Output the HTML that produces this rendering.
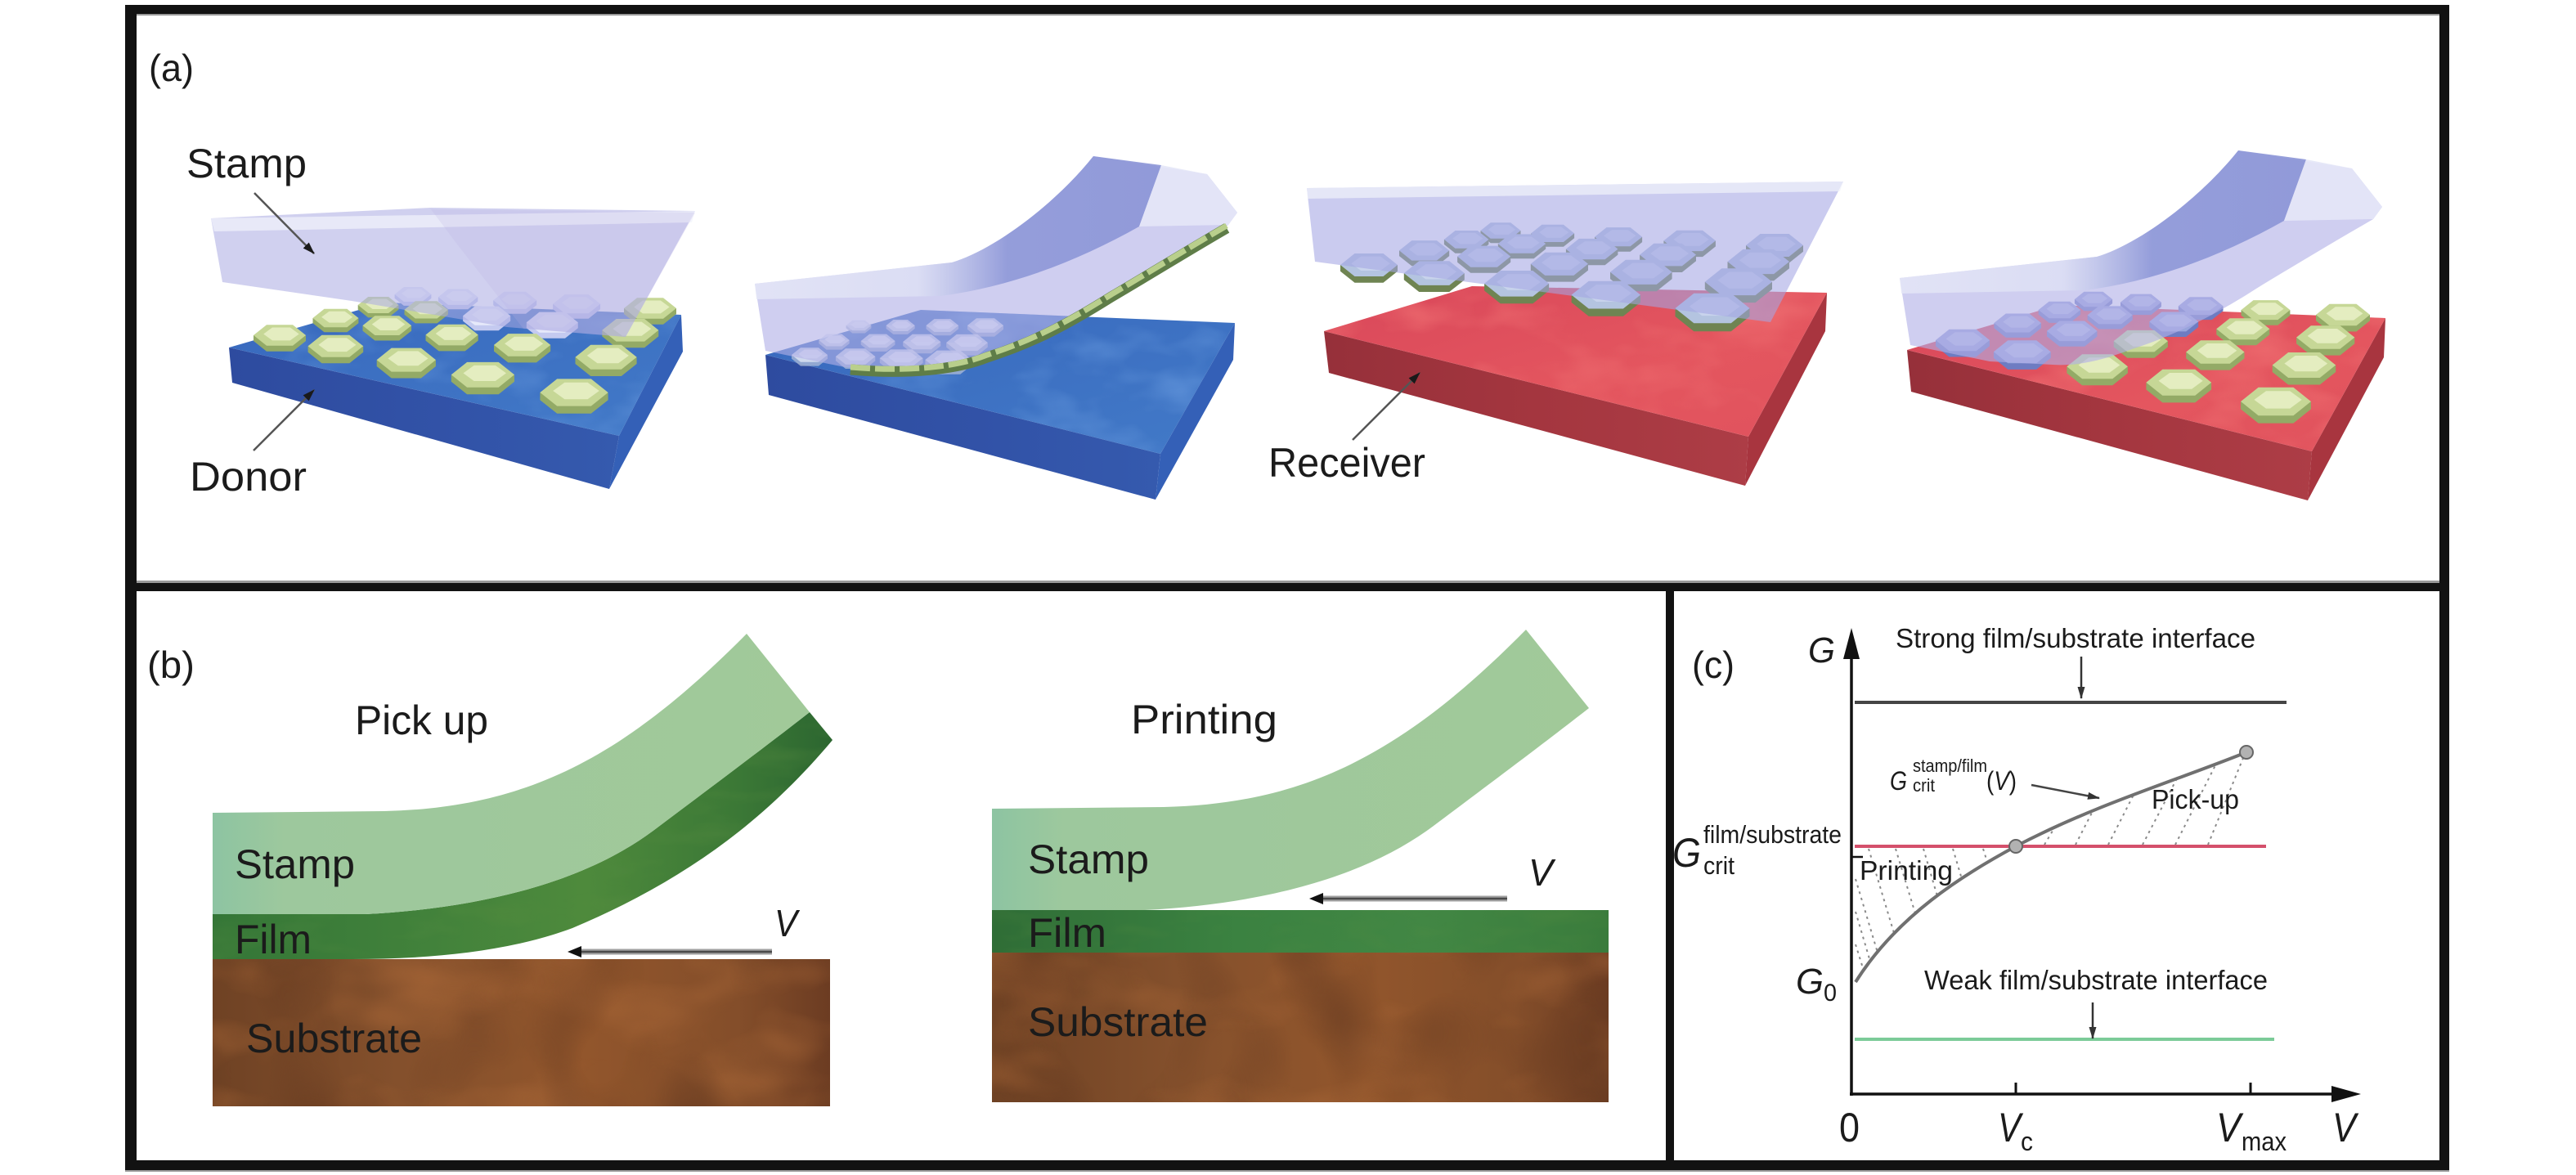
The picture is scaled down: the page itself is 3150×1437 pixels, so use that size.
<!DOCTYPE html>
<html><head><meta charset="utf-8">
<style>
html,body{margin:0;padding:0;background:#fff;overflow:hidden;width:3150px;height:1437px;}
svg{display:block;}
text{font-family:"Liberation Sans",Arial,sans-serif;fill:#1b1b1b;}
.it{font-style:italic;}
filter{color-interpolation-filters:sRGB;}
</style></head><body>
<svg xmlns="http://www.w3.org/2000/svg" width="3150" height="1437" viewBox="0 0 3150 1437">
<defs>
 <linearGradient id="blueFront" x1="0" y1="0" x2="1" y2="0">
  <stop offset="0" stop-color="#2e4b9f"/><stop offset="0.6" stop-color="#3253a8"/><stop offset="1" stop-color="#355aae"/>
 </linearGradient>
 <linearGradient id="blueTop" x1="0" y1="0" x2="1" y2="1">
  <stop offset="0" stop-color="#3868bd"/><stop offset="1" stop-color="#427ac8"/>
 </linearGradient>
 <linearGradient id="redFront" x1="0" y1="0" x2="1" y2="0">
  <stop offset="0" stop-color="#96303a"/><stop offset="0.5" stop-color="#a4363f"/><stop offset="1" stop-color="#ad3d46"/>
 </linearGradient>
 <linearGradient id="redTop" x1="0" y1="0" x2="1" y2="1">
  <stop offset="0" stop-color="#d9475a"/><stop offset="0.6" stop-color="#e4565f"/><stop offset="1" stop-color="#e0525d"/>
 </linearGradient>
 <linearGradient id="stampG" x1="0" y1="0" x2="1" y2="0">
  <stop offset="0" stop-color="#8dc4a2"/><stop offset="0.12" stop-color="#9dc89d"/><stop offset="1" stop-color="#a1c999"/>
 </linearGradient>
 <linearGradient id="filmG" x1="0" y1="0" x2="1" y2="0">
  <stop offset="0" stop-color="#347637"/><stop offset="0.35" stop-color="#42823b"/><stop offset="0.6" stop-color="#4e8a3c"/><stop offset="0.85" stop-color="#3b7836"/><stop offset="1" stop-color="#2c6630"/>
 </linearGradient>
 <linearGradient id="filmP" x1="0" y1="0" x2="1" y2="0">
  <stop offset="0" stop-color="#2f6d36"/><stop offset="0.4" stop-color="#3b8241"/><stop offset="0.7" stop-color="#428744"/><stop offset="1" stop-color="#3a7c3c"/>
 </linearGradient>
 <linearGradient id="brownG" x1="0" y1="0" x2="1" y2="0">
  <stop offset="0" stop-color="#6f4224"/><stop offset="0.3" stop-color="#84502c"/><stop offset="0.6" stop-color="#92562c"/><stop offset="0.85" stop-color="#844e2a"/><stop offset="1" stop-color="#6c3c22"/>
 </linearGradient>
 <linearGradient id="st2top" x1="923" y1="0" x2="1420" y2="0" gradientUnits="userSpaceOnUse">
  <stop offset="0" stop-color="#e6e8f7" stop-opacity="0.8"/><stop offset="0.4" stop-color="#dfe2f5" stop-opacity="0.75"/><stop offset="0.62" stop-color="#8e98d8" stop-opacity="0.9"/><stop offset="1" stop-color="#8a94d6" stop-opacity="0.9"/>
 </linearGradient>
 <filter id="fBlue" x="0" y="0" width="1" height="1" primitiveUnits="userSpaceOnUse" color-interpolation-filters="sRGB">
  <feTurbulence type="fractalNoise" baseFrequency="0.012 0.022" numOctaves="3" seed="7" result="t"/>
  <feColorMatrix in="t" type="matrix" values="0 0 0 0 0.36  0 0 0 0 0.56  0 0 0 0 0.84  1.8 0 0 0 -0.8"/>
  <feComposite in2="SourceGraphic" operator="in"/>
 </filter>
 <filter id="fRed" x="0" y="0" width="1" height="1" primitiveUnits="userSpaceOnUse" color-interpolation-filters="sRGB">
  <feTurbulence type="fractalNoise" baseFrequency="0.01 0.02" numOctaves="3" seed="3" result="t"/>
  <feColorMatrix in="t" type="matrix" values="0 0 0 0 0.94  0 0 0 0 0.44  0 0 0 0 0.45  1.6 0 0 0 -0.72"/>
  <feComposite in2="SourceGraphic" operator="in"/>
 </filter>
 <filter id="fBrown" x="0" y="0" width="1" height="1" primitiveUnits="userSpaceOnUse" color-interpolation-filters="sRGB">
  <feTurbulence type="fractalNoise" baseFrequency="0.007 0.012" numOctaves="3" seed="11" result="t"/>
  <feColorMatrix in="t" type="matrix" values="0 0 0 0 0.64  0 0 0 0 0.39  0 0 0 0 0.21  1.8 0 0 0 -0.8"/>
  <feComposite in2="SourceGraphic" operator="in"/>
 </filter>
 <filter id="fBrownD" x="0" y="0" width="1" height="1" primitiveUnits="userSpaceOnUse" color-interpolation-filters="sRGB">
  <feTurbulence type="fractalNoise" baseFrequency="0.009 0.006" numOctaves="2" seed="23" result="t"/>
  <feColorMatrix in="t" type="matrix" values="0 0 0 0 0.40  0 0 0 0 0.23  0 0 0 0 0.13  1.6 0 0 0 -0.75"/>
  <feComposite in2="SourceGraphic" operator="in"/>
 </filter>
 <filter id="fGreen" x="0" y="0" width="1" height="1" primitiveUnits="userSpaceOnUse" color-interpolation-filters="sRGB">
  <feTurbulence type="fractalNoise" baseFrequency="0.01 0.03" numOctaves="3" seed="5" result="t"/>
  <feColorMatrix in="t" type="matrix" values="0 0 0 0 0.36  0 0 0 0 0.56  0 0 0 0 0.26  1.4 0 0 0 -0.65"/>
  <feComposite in2="SourceGraphic" operator="in"/>
 </filter>
 <marker id="ahA" markerUnits="userSpaceOnUse" markerWidth="16" markerHeight="12" refX="14" refY="6" orient="auto">
  <path d="M0,1 L15,6 L0,11 Z" fill="#1a1a1a"/>
 </marker>
 <marker id="ahC" markerUnits="userSpaceOnUse" markerWidth="16" markerHeight="12" refX="14" refY="6" orient="auto">
  <path d="M0,1.5 L15,6 L0,10.5 Z" fill="#333"/>
 </marker>
</defs>

<!-- ===================== PANEL (a) ===================== -->
<!-- Image 1 : donor -->
<polygon points="280,425 757,533 745,598 284,468" fill="url(#blueFront)"/>
<polygon points="757,533 833,385 835,430 745,598" fill="#3460b7"/>
<polygon points="280,425 470,370 833,385 757,533" fill="url(#blueTop)"/>
<polygon points="280,425 470,370 833,385 757,533" fill="#000" filter="url(#fBlue)"/>
<g id="hx1"></g>
<path d="M258,267 L527,254 L850,258 L765,412 L620,400 L430,368 L272,345 Z" fill="#a9a9e2" fill-opacity="0.55"/>
<path d="M258,267 L850,258 L846,272 L262,283 Z" fill="#f2f3fc" fill-opacity="0.7"/>
<path d="M527,256 L850,260 L765,412 L640,402 L560,300 Z" fill="#b9b2e4" fill-opacity="0.22"/>

<!-- Image 2 : peeling from donor -->
<polygon points="936,434 1419,555 1413,611 940,483" fill="url(#blueFront)"/>
<polygon points="1419,555 1510,395 1508,440 1413,611" fill="#3460b7"/>
<polygon points="936,434 1126,379 1510,395 1419,555" fill="url(#blueTop)"/>
<polygon points="936,434 1126,379 1510,395 1419,555" fill="#000" filter="url(#fBlue)"/>
<g id="hx2"></g>
<g id="stamp2">
 <path d="M923,347 L1164,321 C1215,306 1290,250 1337,191 L1476,213 L1513,260 L1502,275 C1450,305 1400,335 1359,360 C1300,398 1250,420 1207,434 C1170,448 1140,455 1110,453 L1033,449 L936,429 Z" fill="#b2b0e6" fill-opacity="0.62"/>
 <path d="M923,347 L1164,321 C1215,306 1290,250 1337,191 L1420,202 L1393,277 C1320,318 1240,350 1150,362 L925,366 Z" fill="url(#st2top)"/>
 <path d="M1393,277 L1420,202 L1476,213 L1513,260 L1502,275 Z" fill="#e4e7f7" fill-opacity="0.9"/>
</g>
<path d="M1040,452 C1110,458 1170,452 1207,437 C1260,420 1300,400 1359,363 C1410,333 1450,308 1500,279" fill="none" stroke="#5f7d48" stroke-width="13"/>
<path d="M1040,449 C1110,455 1170,449 1207,434 C1260,417 1300,397 1359,360 C1410,330 1450,305 1500,276" fill="none" stroke="#b9cf8c" stroke-width="7" stroke-dasharray="24 6"/>

<!-- Image 3 : printing onto receiver -->
<polygon points="1619,405 2138,534 2134,594 1625,456" fill="url(#redFront)"/>
<polygon points="2138,534 2234,358 2232,405 2134,594" fill="#a8353f"/>
<polygon points="1619,405 1800,350 2234,358 2138,534" fill="url(#redTop)"/>
<polygon points="1619,405 1800,350 2234,358 2138,534" fill="#000" filter="url(#fRed)"/>
<g id="hx3"></g>
<path d="M1598,230 L2254,222 L2165,394 L1608,320 Z" fill="#a4a6e4" fill-opacity="0.58"/>
<path d="M1598,230 L2254,222 L2250,234 L1599,243 Z" fill="#f1f2fb" fill-opacity="0.7"/>

<!-- Image 4 : peeling from receiver -->
<polygon points="2332,428 2827,552 2822,612 2337,479" fill="url(#redFront)"/>
<polygon points="2827,552 2917,389 2915,437 2822,612" fill="#a8353f"/>
<polygon points="2332,428 2517,373 2917,389 2827,552" fill="url(#redTop)"/>
<polygon points="2332,428 2517,373 2917,389 2827,552" fill="#000" filter="url(#fRed)"/>
<g id="hx4"></g>
<use href="#stamp2" transform="translate(1400,-7)"/>

<!-- labels (a) -->
<text x="182" y="99" font-size="46" textLength="55" lengthAdjust="spacingAndGlyphs">(a)</text>
<text x="228" y="217" font-size="50" textLength="147" lengthAdjust="spacingAndGlyphs">Stamp</text>
<text x="232" y="600" font-size="50" textLength="143" lengthAdjust="spacingAndGlyphs">Donor</text>
<text x="1551" y="583" font-size="50" textLength="192" lengthAdjust="spacingAndGlyphs">Receiver</text>
<line x1="311" y1="236" x2="384" y2="310" stroke="#555" stroke-width="2.5" marker-end="url(#ahA)"/>
<line x1="310" y1="551" x2="384" y2="477" stroke="#555" stroke-width="2.5" marker-end="url(#ahA)"/>
<line x1="1654" y1="538" x2="1736" y2="456" stroke="#555" stroke-width="2.5" marker-end="url(#ahA)"/>

<!-- ===================== PANEL (b) ===================== -->
<!-- pick up -->
<rect x="260" y="1173" width="755" height="180" fill="url(#brownG)"/>
<rect x="260" y="1173" width="755" height="180" fill="#000" filter="url(#fBrown)"/>
<rect x="260" y="1173" width="755" height="180" fill="#000" filter="url(#fBrownD)"/>
<path d="M260,1118 L447,1118 C600,1110 720,1075 800,1015 C880,955 940,910 990,871 L1018,905 C930,1010 830,1080 700,1135 C620,1165 520,1173 430,1173 L260,1173 Z" fill="url(#filmG)"/>
<path d="M260,1118 L447,1118 C600,1110 720,1075 800,1015 C880,955 940,910 990,871 L1018,905 C930,1010 830,1080 700,1135 C620,1165 520,1173 430,1173 L260,1173 Z" fill="#000" filter="url(#fGreen)" opacity="0.5"/>
<path d="M260,994 L470,992 C640,988 760,930 913,775 L990,871 C940,910 880,955 800,1015 C720,1075 600,1110 447,1118 L260,1118 Z" fill="url(#stampG)"/>
<line x1="944" y1="1164" x2="708" y2="1164" stroke="#a0a0a0" stroke-width="7"/>
<line x1="944" y1="1164" x2="708" y2="1164" stroke="#4a4a4a" stroke-width="2.5"/>
<polygon points="694,1164 711,1157 711,1171" fill="#111"/>

<!-- printing -->
<rect x="1213" y="1165" width="754" height="183" fill="url(#brownG)"/>
<rect x="1213" y="1165" width="754" height="183" fill="#000" filter="url(#fBrown)"/>
<rect x="1213" y="1165" width="754" height="183" fill="#000" filter="url(#fBrownD)"/>
<rect x="1213" y="1113" width="754" height="52" fill="url(#filmP)"/>
<rect x="1213" y="1113" width="754" height="52" fill="#000" filter="url(#fGreen)" opacity="0.5"/>
<path d="M260,994 L470,992 C640,988 760,930 913,775 L990,871 C940,910 880,955 800,1015 C720,1075 600,1110 447,1118 L260,1118 Z" fill="url(#stampG)" transform="translate(953,-5)"/>
<line x1="1843" y1="1099" x2="1615" y2="1099" stroke="#a0a0a0" stroke-width="7"/>
<line x1="1843" y1="1099" x2="1615" y2="1099" stroke="#4a4a4a" stroke-width="2.5"/>
<polygon points="1601,1099 1618,1092 1618,1106" fill="#111"/>

<!-- labels (b) -->
<text x="180" y="829" font-size="46" textLength="58" lengthAdjust="spacingAndGlyphs">(b)</text>
<text x="434" y="898" font-size="50" textLength="163" lengthAdjust="spacingAndGlyphs">Pick up</text>
<text x="1383" y="897" font-size="50" textLength="179" lengthAdjust="spacingAndGlyphs">Printing</text>
<text x="287" y="1074" font-size="50" textLength="147" lengthAdjust="spacingAndGlyphs">Stamp</text>
<text x="287" y="1166" font-size="50" textLength="94" lengthAdjust="spacingAndGlyphs">Film</text>
<text x="301" y="1287" font-size="50" textLength="215" lengthAdjust="spacingAndGlyphs">Substrate</text>
<text x="947" y="1145" font-size="46" class="it" textLength="28" lengthAdjust="spacingAndGlyphs">V</text>
<text x="1257" y="1068" font-size="50" textLength="148" lengthAdjust="spacingAndGlyphs">Stamp</text>
<text x="1257" y="1158" font-size="50" textLength="96" lengthAdjust="spacingAndGlyphs">Film</text>
<text x="1257" y="1267" font-size="50" textLength="220" lengthAdjust="spacingAndGlyphs">Substrate</text>
<text x="1869" y="1083" font-size="46" class="it" textLength="30" lengthAdjust="spacingAndGlyphs">V</text>

<!-- ===================== PANEL (c) ===================== -->
<g stroke="#8a8a8a" stroke-width="2" stroke-dasharray="3 5" fill="none">
 <line x1="2285" y1="1038" x2="2316" y2="1141"/>
 <line x1="2318" y1="1038" x2="2342" y2="1117"/>
 <line x1="2352" y1="1038" x2="2369" y2="1096"/>
 <line x1="2388" y1="1038" x2="2399" y2="1075"/>
 <line x1="2425" y1="1038" x2="2430" y2="1054"/>
 <line x1="2269" y1="1075" x2="2296" y2="1165"/>
 <line x1="2269" y1="1115" x2="2287" y2="1176"/>
 <line x1="2269" y1="1155" x2="2279" y2="1187"/>
 <line x1="2500" y1="1033" x2="2513" y2="1011"/>
 <line x1="2538" y1="1033" x2="2559" y2="992"/>
 <line x1="2578" y1="1033" x2="2609" y2="972"/>
 <line x1="2620" y1="1033" x2="2661" y2="954"/>
 <line x1="2660" y1="1033" x2="2710" y2="934"/>
 <line x1="2700" y1="1033" x2="2745" y2="922"/>
</g>
<line x1="2268" y1="859" x2="2796" y2="859" stroke="#454545" stroke-width="4"/>
<line x1="2268" y1="1035" x2="2771" y2="1035" stroke="#d4506b" stroke-width="4"/>
<line x1="2268" y1="1271" x2="2781" y2="1271" stroke="#7ccb98" stroke-width="4"/>
<path d="M2269,1201 C2320,1120 2400,1070 2465,1035 C2560,985 2660,955 2747,920" fill="none" stroke="#707070" stroke-width="4"/>
<circle cx="2465" cy="1035" r="8" fill="#b2b2b2" stroke="#666" stroke-width="2"/>
<circle cx="2747" cy="920" r="8" fill="#b2b2b2" stroke="#666" stroke-width="2"/>
<line x1="2264" y1="1340" x2="2264" y2="800" stroke="#111" stroke-width="3.5"/>
<polygon points="2264,768 2254,806 2274,806" fill="#111"/>
<line x1="2262" y1="1338" x2="2856" y2="1338" stroke="#111" stroke-width="3.5"/>
<polygon points="2887,1338 2851,1328 2851,1348" fill="#111"/>
<line x1="2465" y1="1324" x2="2465" y2="1338" stroke="#111" stroke-width="3"/>
<line x1="2752" y1="1324" x2="2752" y2="1338" stroke="#111" stroke-width="3"/>
<line x1="2264" y1="1048" x2="2278" y2="1048" stroke="#111" stroke-width="2.5"/>
<line x1="2545" y1="803" x2="2545" y2="854" stroke="#333" stroke-width="2.5" marker-end="url(#ahC)"/>
<line x1="2559" y1="1226" x2="2559" y2="1270" stroke="#333" stroke-width="2.5" marker-end="url(#ahC)"/>
<line x1="2484" y1="960" x2="2567" y2="976" stroke="#444" stroke-width="2.5" marker-end="url(#ahC)"/>

<text x="2069" y="829" font-size="46" textLength="52" lengthAdjust="spacingAndGlyphs">(c)</text>
<text x="2211" y="810" font-size="44" class="it" textLength="33" lengthAdjust="spacingAndGlyphs">G</text>
<text x="2318" y="792" font-size="33" textLength="440" lengthAdjust="spacingAndGlyphs">Strong film/substrate interface</text>
<text x="2353" y="1210" font-size="33" textLength="420" lengthAdjust="spacingAndGlyphs">Weak film/substrate interface</text>
<text x="2311" y="966" font-size="32" class="it" textLength="21" lengthAdjust="spacingAndGlyphs">G</text>
<text x="2339" y="944" font-size="22" textLength="91" lengthAdjust="spacingAndGlyphs">stamp/film</text>
<text x="2339" y="968" font-size="22" textLength="27" lengthAdjust="spacingAndGlyphs">crit</text>
<text x="2429" y="966" font-size="32" textLength="37" lengthAdjust="spacingAndGlyphs">(<tspan class="it">V</tspan>)</text>
<text x="2631" y="989" font-size="33" textLength="107" lengthAdjust="spacingAndGlyphs">Pick-up</text>
<text x="2274" y="1076" font-size="33" textLength="114" lengthAdjust="spacingAndGlyphs">Printing</text>
<text x="2045" y="1060" font-size="50" class="it" textLength="35" lengthAdjust="spacingAndGlyphs">G</text>
<text x="2083" y="1031" font-size="31" textLength="169" lengthAdjust="spacingAndGlyphs">film/substrate</text>
<text x="2083" y="1069" font-size="31" textLength="38" lengthAdjust="spacingAndGlyphs">crit</text>
<text x="2196" y="1215" font-size="44" class="it" textLength="34" lengthAdjust="spacingAndGlyphs">G</text>
<text x="2230" y="1224" font-size="30" textLength="16" lengthAdjust="spacingAndGlyphs">0</text>
<text x="2249" y="1396" font-size="50" textLength="25" lengthAdjust="spacingAndGlyphs">0</text>
<text x="2443" y="1396" font-size="50" class="it" textLength="28" lengthAdjust="spacingAndGlyphs">V</text>
<text x="2471" y="1407" font-size="32" textLength="15" lengthAdjust="spacingAndGlyphs">c</text>
<text x="2710" y="1396" font-size="50" class="it" textLength="30" lengthAdjust="spacingAndGlyphs">V</text>
<text x="2741" y="1407" font-size="32" textLength="55" lengthAdjust="spacingAndGlyphs">max</text>
<text x="2852" y="1396" font-size="50" class="it" textLength="29" lengthAdjust="spacingAndGlyphs">V</text>

<!-- ===================== FRAME ===================== -->
<g fill="#121212">
 <rect x="153" y="6" width="2842" height="11"/>
 <rect x="153" y="6" width="14" height="1425"/>
 <rect x="2983" y="6" width="12" height="1425"/>
 <rect x="153" y="1419" width="2842" height="12"/>
 <rect x="153" y="713" width="2842" height="10"/>
 <rect x="2037" y="713" width="10" height="718"/>
</g>
<g fill="#9a9a9a">
 <rect x="167" y="17" width="2816" height="2"/>
 <rect x="167" y="710" width="2816" height="3"/>
 <rect x="153" y="1431" width="2842" height="2"/>
</g>
</svg>
<script>
(function(){
 var NS='http://www.w3.org/2000/svg';
 function poly(g,pts,fill,op){var p=document.createElementNS(NS,'polygon');
  p.setAttribute('points',pts.map(function(q){return q[0].toFixed(1)+','+q[1].toFixed(1);}).join(' '));
  p.setAttribute('fill',fill); if(op!==undefined)p.setAttribute('fill-opacity',op); g.appendChild(p);}
 function hexPts(cx,cy,w,h){return [[cx-w/2,cy],[cx-w/4,cy-h/2],[cx+w/4,cy-h/2],[cx+w/2,cy],[cx+w/4,cy+h/2],[cx-w/4,cy+h/2]];}
 function inside(pt,pg){var x=pt[0],y=pt[1],c=false;
  for(var i=0,j=pg.length-1;i<pg.length;j=i++){var xi=pg[i][0],yi=pg[i][1],xj=pg[j][0],yj=pg[j][1];
   if(((yi>y)!=(yj>y))&&(x<(xj-xi)*(y-yi)/(yj-yi)+xi))c=!c;}
  return c;}
 function grid(id,c00,c40,c03,c43,w0,col,us,vs,mask,gcol){
  var g=document.getElementById(id); if(!g)return;
  us=us||[0,.19,.43,.69,1]; vs=vs||[1,.74,.42,0];
  vs.forEach(function(v){us.forEach(function(u){
   var x=(1-v)*((1-u)*c00[0]+u*c40[0])+v*((1-u)*c03[0]+u*c43[0]);
   var y=(1-v)*((1-u)*c00[1]+u*c40[1])+v*((1-u)*c03[1]+u*c43[1]);
   var w=w0*(1+0.3*u-0.3*v), h=w*0.4, t=w*0.11;
   var cc=(mask&&inside([x,y+h*0.3],mask))?gcol:col;
   poly(g,[[x-w/2,y],[x-w/2,y+t],[x-w/4,y+h/2+t],[x+w/4,y+h/2+t],[x+w/2,y+t],[x+w/2,y]],cc[0],cc[3]);
   poly(g,hexPts(x,y,w,h),cc[1],cc[3]);
   poly(g,hexPts(x+w*0.03,y-h*0.06,w*0.68,h*0.62),cc[2],cc[3]);
  });});
 }
 var green=['#93aa66','#c6d796','#e4edc0'];
 var st1=[[258,267],[527,254],[850,258],[765,412],[620,400],[430,368],[272,345]];
 var st2=[[923,347],[1164,321],[1337,191],[1476,213],[1513,260],[1502,275],[1359,360],[1207,434],[1110,453],[1033,449],[936,429]];
 var st4=st2.map(function(p){return [p[0]+1400,p[1]-7];});
 grid('hx1',[342,410],[702,480],[505,360],[795,377],64,green,null,null,st1,['#c4caf0','#e6e9fa','#f2f4fd']);
 grid('hx4',[2400,416],[2783,491],[2560,366],[2865,385],66,green,null,null,st4,['#6e7cc2','#98a4dc','#b4bde8']);
 grid('hx3',[1674,324],[2094,377],[1835,282],[2170,300],70,['#6f8452','#b4c4e0','#c8d3ec']);
 grid('hx2',[990,434],[1160,440],[1050,398],[1205,398],44,['#a9b8d6','#dfe5f4','#eef2fb',0.8],[0,.33,.66,1],[1,.5,0]);
})();
</script>
</body></html>
